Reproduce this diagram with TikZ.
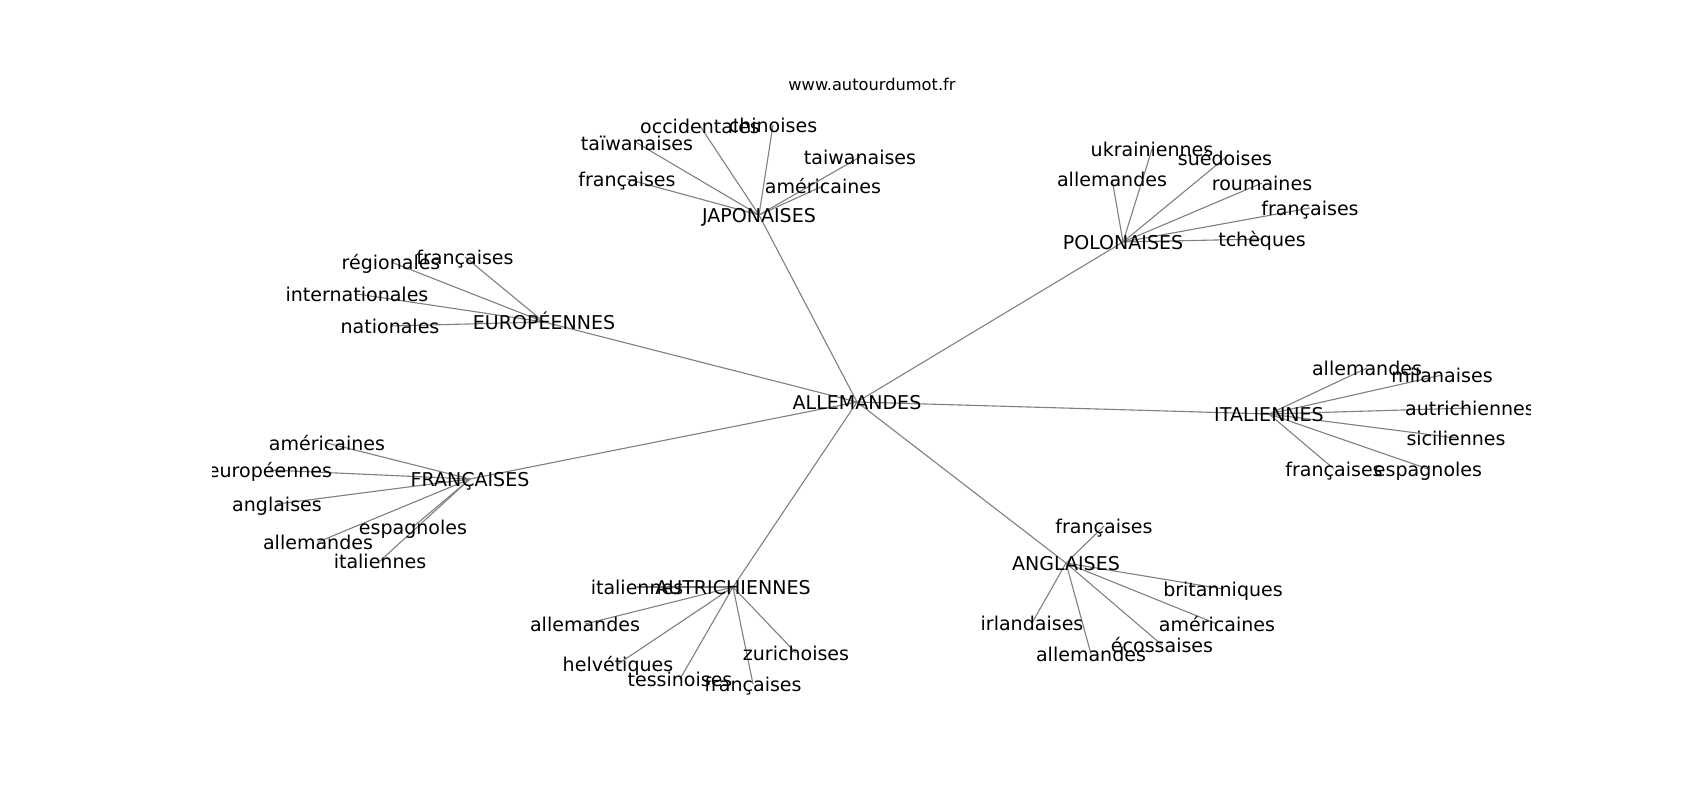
\documentclass[tikz,border=0pt]{standalone}
\usepackage{fontspec}
\setmainfont{DejaVu Sans}
\definecolor{edgegray}{RGB}{128,128,128}
\pgfdeclarelayer{bg}
\pgfsetlayers{bg,main}
\begin{document}
\begin{tikzpicture}[x=0.72pt,y=-0.72pt,
  lbl/.style={font=\fontsize{13.7}{16}\selectfont, inner sep=0pt, text height=1.1em, text depth=0pt, anchor=center},
  ttl/.style={font=\fontsize{11.7}{14}\selectfont, inner sep=0pt, text height=1.1em, text depth=0pt, anchor=center},
  edge/.style={draw=edgegray, line width=0.8pt}]
\useasboundingbox (0,0) rectangle (1700,800);
\node[ttl] (title) at (872,83) {www.autourdumot.fr};
\begin{scope}
\clip (212.5,96) rectangle (1530,712);
\node[lbl] (A) at (857,402) {ALLEMANDES};
% JAPONAISES
\node[lbl] (J) at (759,215) {JAPONAISES};
\node[lbl] (j1) at (700,126) {occidentales};
\node[lbl] (j2) at (773,125) {chinoises};
\node[lbl] (j3) at (637,143) {taïwanaises};
\node[lbl] (j4) at (860,157) {taiwanaises};
\node[lbl] (j5) at (627,179) {françaises};
\node[lbl] (j6) at (823,186) {américaines};
% POLONAISES
\node[lbl] (P) at (1123,242) {POLONAISES};
\node[lbl] (p1) at (1152,149) {ukrainiennes};
\node[lbl] (p2) at (1225,158) {suédoises};
\node[lbl] (p3) at (1112,179) {allemandes};
\node[lbl] (p4) at (1262,183) {roumaines};
\node[lbl] (p5) at (1310,208) {françaises};
\node[lbl] (p6) at (1262,239) {tchèques};
% EUROPEENNES
\node[lbl] (E) at (544,322) {EUROPÉENNES};
\node[lbl] (e1) at (391,262) {régionales};
\node[lbl] (e2) at (465,257) {françaises};
\node[lbl] (e3) at (357,294) {internationales};
\node[lbl] (e4) at (390,326) {nationales};
% FRANCAISES
\node[lbl] (F) at (470,479) {FRANÇAISES};
\node[lbl] (f1) at (327,443) {américaines};
\node[lbl] (f2) at (270,470) {européennes};
\node[lbl] (f3) at (277,504) {anglaises};
\node[lbl] (f4) at (318,542) {allemandes};
\node[lbl] (f5) at (413,527) {espagnoles};
\node[lbl] (f6) at (380,561) {italiennes};
% ITALIENNES
\node[lbl] (I) at (1269,414) {ITALIENNES};
\node[lbl] (i1) at (1367,368) {allemandes};
\node[lbl] (i2) at (1442,375) {milanaises};
\node[lbl] (i3) at (1470,408) {autrichiennes};
\node[lbl] (i4) at (1456,438) {siciliennes};
\node[lbl] (i5) at (1334,469) {françaises};
\node[lbl] (i6) at (1428,469) {espagnoles};
% AUTRICHIENNES
\node[lbl] (U) at (733,587) {AUTRICHIENNES};
\node[lbl] (u1) at (637,587) {italiennes};
\node[lbl] (u2) at (585,624) {allemandes};
\node[lbl] (u3) at (618,664) {helvétiques};
\node[lbl] (u4) at (680,679) {tessinoises};
\node[lbl] (u5) at (753,684) {françaises};
\node[lbl] (u6) at (796,653) {zurichoises};
% ANGLAISES
\node[lbl] (G) at (1066,563) {ANGLAISES};
\node[lbl] (g1) at (1104,526) {françaises};
\node[lbl] (g2) at (1223,589) {britanniques};
\node[lbl] (g3) at (1032,623) {irlandaises};
\node[lbl] (g4) at (1217,624) {américaines};
\node[lbl] (g5) at (1162,645) {écossaises};
\node[lbl] (g6) at (1091,654) {allemandes};
\end{scope}
\begin{pgfonlayer}{bg}
\foreach \p/\c in {A/J,A/P,A/E,A/F,A/I,A/U,A/G,
  J/j1,J/j2,J/j3,J/j4,J/j5,J/j6,
  P/p1,P/p2,P/p3,P/p4,P/p5,P/p6,
  E/e1,E/e2,E/e3,E/e4,
  F/f1,F/f2,F/f3,F/f4,F/f5,F/f6,
  I/i1,I/i2,I/i3,I/i4,I/i5,I/i6,
  U/u1,U/u2,U/u3,U/u4,U/u5,U/u6,
  G/g1,G/g2,G/g3,G/g4,G/g5,G/g6}
  \draw[edge] (\p.center) -- (\c.center);
\end{pgfonlayer}
\end{tikzpicture}
\end{document}
